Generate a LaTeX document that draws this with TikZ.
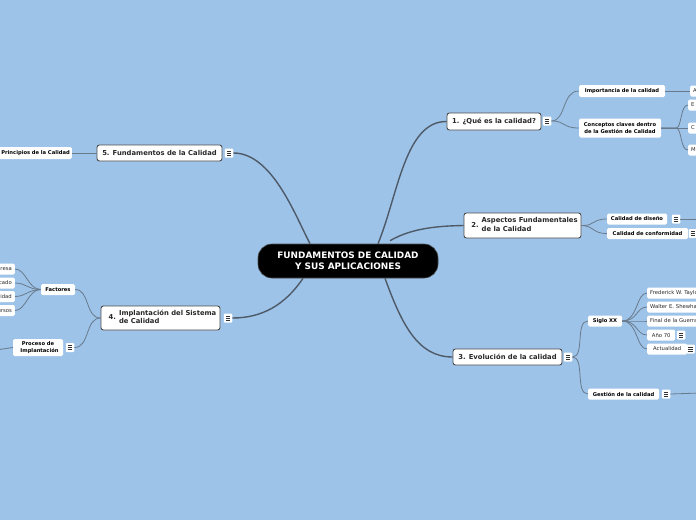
\documentclass[tikz,border=0pt]{standalone}
\usepackage{fontspec}
\setmainfont{DejaVu Sans}
\definecolor{bgblue}{RGB}{157,195,232}
\definecolor{mainline}{RGB}{78,90,104}
\definecolor{subline}{RGB}{105,122,140}
\definecolor{txt}{RGB}{40,40,40}
\tikzset{
  central/.style={fill=black, draw=gray!60!black, line width=0.6pt, rounded corners=14pt, text=white,
    font=\fontsize{8.9}{11}\selectfont\bfseries, align=center, minimum width=180pt, minimum height=34pt, inner sep=0pt},
  topic/.style={fill=white, draw=black!70, line width=0.9pt, rounded corners=2.5pt, text=txt,
    font=\fontsize{6.8}{8.4}\selectfont\bfseries, inner sep=0pt, align=left},
  sub/.style={fill=white, rounded corners=1.5pt, text=black, font=\fontsize{5.2}{7.2}\selectfont\bfseries,
    inner sep=0pt, align=center},
  leaf/.style={fill=white, rounded corners=1.5pt, text=txt, font=\fontsize{5.3}{6}\selectfont,
    inner sep=0pt, minimum height=11pt},
  menuicon/.style={fill=white, rounded corners=1pt, minimum width=8.5pt, minimum height=9pt, inner sep=0pt,
    path picture={\foreach \d in {-2.2,0,2.2} \draw[line width=0.55pt, black!80]
      ([xshift=-2.2pt,yshift=\d pt]path picture bounding box.center) -- ([xshift=2.2pt,yshift=\d pt]path picture bounding box.center);}},
  mline/.style={draw=mainline, line width=1.4pt},
  sline/.style={draw=subline, line width=0.8pt},
}
\begin{document}
\begin{tikzpicture}[x=1pt,y=-1pt]
\fill[bgblue] (0,0) rectangle (696,520);
\useasboundingbox (0,0) rectangle (696,520);

% central
\node[central] (c) at (348,261) {FUNDAMENTOS DE CALIDAD\\Y SUS APLICACIONES};

% main topics
\node[topic, minimum width=94pt, minimum height=17pt, align=center] (t1) at (494,121.5) {1. ¿Qué es la calidad?};
\node[topic, minimum width=117pt, minimum height=25pt] (t2) at (522.5,225.5) {\hspace{4pt}2.\hspace{3pt}\begin{tabular}{@{}l@{}}Aspectos Fundamentales\\ de la Calidad\end{tabular}};
\node[topic, minimum width=109pt, minimum height=16pt, align=center] (t3) at (507.5,357) {3. Evolución de la calidad};
\node[topic, minimum width=119pt, minimum height=24pt] (t4) at (160.5,318) {\hspace{4pt}4.\hspace{3pt}\begin{tabular}{@{}l@{}}Implantación del Sistema\\ de Calidad\end{tabular}};
\node[topic, minimum width=125pt, minimum height=16pt, align=center] (t5) at (159.5,153) {5. Fundamentos de la Calidad};

% menu icons of topics
\node[menuicon] (m1) at (547,121) {};
\node[menuicon] (m3) at (568,357) {};
\node[menuicon] (m4) at (228,318) {};
\node[menuicon] (m5) at (229,153) {};

% topic 1 subtopics
\node[sub, minimum width=86pt, minimum height=12pt] (s11) at (622,91) {Importancia de la calidad};
\node[sub, minimum width=82pt, minimum height=19pt] (s12) at (620,128) {Conceptos claves dentro\\de la Gestión de Calidad};
\node[leaf, anchor=west, minimum width=30pt, text width=24pt] (l111) at (690,91) {A};
\node[leaf, anchor=west, minimum width=30pt, text width=24pt] (l121) at (688,105) {E};
\node[leaf, anchor=west, minimum width=30pt, text width=24pt] (l122) at (688,128) {C};
\node[leaf, anchor=west, minimum width=30pt, text width=24pt] (l123) at (688,150) {M};

% topic 2 subtopics
\node[sub, minimum width=60pt, minimum height=11pt] (s21) at (637,219) {Calidad de diseño};
\node[sub, minimum width=81pt, minimum height=11pt] (s22) at (647.5,233.5) {Calidad de conformidad};
\node[menuicon] (m21) at (676,219) {};
\node[menuicon] (m22) at (693,233.5) {};
\coordinate (e21) at (700,219);

% topic 3 subtopics
\node[sub, minimum width=34pt, minimum height=11pt] (s31) at (605,321) {Siglo XX};
\node[sub, minimum width=71pt, minimum height=11pt] (s32) at (623.5,394) {Gestión de la calidad};
\node[menuicon] (m32) at (666,394) {};
\coordinate (e32) at (700,393);
\node[leaf, anchor=west, minimum width=64pt, text width=58pt] (l311) at (647,293) {Frederick W. Taylor};
\node[leaf, anchor=west, minimum width=64pt, text width=58pt] (l312) at (647,307) {Walter E. Shewhart};
\node[leaf, anchor=west, minimum width=64pt, text width=58pt] (l313) at (647,321) {Final de la Guerra};
\node[leaf, anchor=west, minimum width=28pt] (l314) at (647,335) {Año 70};
\node[leaf, anchor=west, minimum width=40pt] (l315) at (647,349) {Actualidad};
\node[menuicon] (m314) at (681,335) {};
\node[menuicon] (m315) at (690.5,349) {};

% topic 4 subtopics
\node[sub, minimum width=34pt, minimum height=11pt] (s41) at (58,289.5) {Factores};
\node[sub, minimum width=50pt, minimum height=17pt] (s42) at (38,347.5) {Proceso de\\\hspace{3pt}Implantación};
\node[menuicon] (m42) at (70,347.5) {};
\coordinate (e42) at (-4,350);
\node[leaf, anchor=east, minimum width=40pt, text width=34pt, align=right] (l411) at (15,269) {Empresa};
\node[leaf, anchor=east, minimum width=40pt, text width=34pt, align=right] (l412) at (15,283) {Mercado};
\node[leaf, anchor=east, minimum width=40pt, text width=34pt, align=right] (l413) at (15,296.5) {Calidad};
\node[leaf, anchor=east, minimum width=40pt, text width=34pt, align=right] (l414) at (15,310.5) {Recursos};

% topic 5 subtopic
\node[sub, anchor=east, minimum width=80pt, minimum height=12pt, text width=76pt, align=right] (s51) at (72,153) {Principios de la Calidad};

% main connectors
\draw[mline] (m5.east) .. controls (272,153) and (295,215) .. ([xshift=-38pt]c.north);
\draw[mline] ([xshift=30pt]c.north) .. controls (398,195) and (405,121) .. (t1.west);
\draw[mline] ([xshift=42pt,yshift=3pt]c.north) .. controls (412,228) and (438,226) .. (t2.west);
\draw[mline] ([xshift=37pt]c.south) .. controls (402,325) and (418,357) .. (t3.west);
\draw[mline] ([xshift=-45pt]c.south) .. controls (285,305) and (262,318) .. (m4.east);

% topic 1
\draw[sline] (m1.east) .. controls (566,121) and (562,91) .. (s11.west);
\draw[sline] (m1.east) .. controls (566,121) and (562,128) .. (s12.west);
\draw[sline] (s11.east) -- (l111.west);
\draw[sline] (s12.east) -- (676,128) .. controls (682,128) and (680,105) .. (l121.west);
\draw[sline] (s12.east) -- (l122.west);
\draw[sline] (s12.east) -- (676,128) .. controls (682,128) and (680,150) .. (l123.west);

% topic 2
\draw[sline] (t2.east) .. controls (595,226) and (592,219) .. (s21.west);
\draw[sline] (t2.east) .. controls (595,226) and (592,233.5) .. (s22.west);
\draw[sline] (m21.east) -- (e21);

% topic 3
\draw[sline] (m3.east) .. controls (585,357) and (575,321) .. (s31.west);
\draw[sline] (m3.east) .. controls (585,357) and (575,394) .. (s32.west);
\draw[sline] (m32.east) -- (e32);
\foreach \n in {l311,l312,l313,l314,l315}
  \draw[sline] (s31.east) .. controls (638,321) and (636,0 |- \n.west) .. (\n.west);

% topic 4
\draw[sline] (t4.west) .. controls (85,318) and (90,289.5) .. (s41.east);
\draw[sline] (t4.west) .. controls (85,318) and (90,347.5) .. (m42.east);
\draw[sline] (s42.west) -- (e42);
\foreach \n in {l411,l412,l413,l414}
  \draw[sline] (s41.west) .. controls (28,289.5) and (26,0 |- \n.east) .. (\n.east);

% topic 5
\draw[sline] (t5.west) -- (s51.east);
\end{tikzpicture}
\end{document}
